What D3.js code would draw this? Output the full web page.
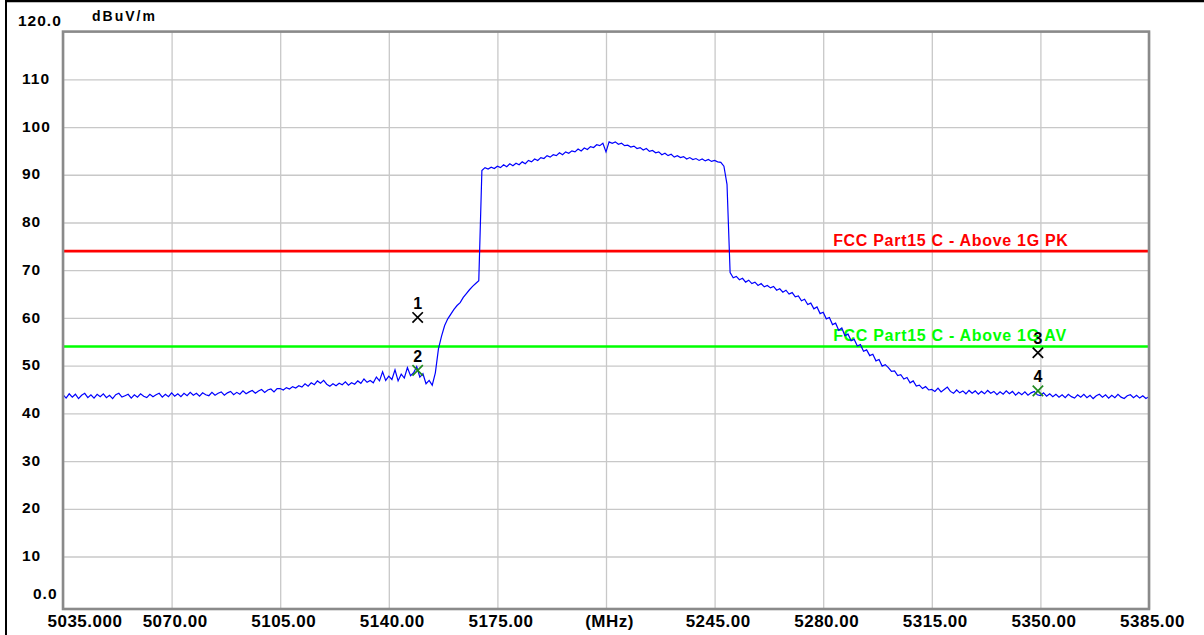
<!DOCTYPE html>
<html>
<head>
<meta charset="utf-8">
<script src="https://cdn.jsdelivr.net/npm/d3@7"></script>
<style>
  html, body { margin: 0; padding: 0; background: #fff; }
  svg { display: block; }
  text { font-family: "Liberation Sans", Arial, sans-serif; font-weight: bold; }
</style>
</head>
<body>
<svg id="chart" width="1204" height="635"></svg>
<script>
// ---------------- DATA ----------------
const freqStart = 5035;   // MHz, first sweep point
const freqStep = 1;       // MHz between sweep points
// Measured level (dBuV/m), one value per sweep point, 5035 .. 5385 MHz
const levels = [
  43.9, 43.2, 44.1, 43.4, 44.0, 43.1, 43.8, 44.2, 43.3, 43.9,
  43.2, 44.0, 43.5, 44.1, 43.3, 43.8, 43.1, 43.9, 44.2, 43.4,
  43.7, 44.0, 43.2, 43.9, 43.4, 44.1, 43.6, 43.3, 44.0, 43.5,
  43.9, 44.2, 43.4, 44.0, 43.5, 44.3, 43.6, 44.1, 43.5, 44.2,
  43.7, 44.4, 43.8, 44.2, 43.6, 44.3, 43.9, 43.7, 44.4, 43.8,
  44.2, 44.5, 43.8, 44.3, 44.6, 43.9, 44.4, 44.0, 44.7, 44.1,
  44.5, 44.8, 44.2, 44.7, 45.0, 44.4, 44.9, 45.1, 44.5, 45.2,
  45.2, 44.9, 45.4, 45.1, 45.6, 45.3, 45.8, 45.5, 46.2, 45.7,
  46.4, 46.0, 46.8, 46.3, 46.9, 46.1, 45.7, 46.2, 45.8, 46.3,
  46.0, 46.6, 45.9, 46.4, 46.1, 46.8, 46.3, 47.2, 46.5, 46.9,
  46.4, 47.6, 46.8, 48.7, 46.9, 47.8, 47.1, 49.1, 46.8, 48.2,
  47.4, 49.6, 47.9, 48.5, 49.8, 47.6, 48.3, 46.2, 46.9, 45.9,
  48.5, 53.5, 56.2, 58.4, 59.8, 60.8, 61.8, 62.6, 63.2, 64.3,
  65.1, 65.9, 66.6, 67.2, 67.8, 90.9, 91.5, 91.2, 91.6, 91.3,
  91.8, 91.5, 92.1, 91.7, 92.3, 91.9, 92.4, 92.1, 92.7, 92.3,
  93.0, 92.7, 93.3, 93.0, 93.6, 93.4, 94.0, 93.7, 94.2, 94.0,
  94.6, 94.2, 94.8, 94.5, 95.0, 94.8, 95.4, 95.0, 95.6, 95.3,
  95.9, 95.7, 96.3, 96.1, 96.6, 94.8, 96.9, 96.6, 96.9, 96.4,
  96.6, 96.1, 96.2, 95.8, 96.0, 95.5, 95.7, 95.2, 95.5, 94.9,
  95.1, 94.6, 94.8, 94.2, 94.5, 94.0, 94.3, 93.7, 94.0, 93.6,
  93.8, 93.3, 93.6, 93.2, 93.4, 93.0, 93.3, 92.9, 93.2, 92.8,
  93.0, 92.7, 92.6, 91.8, 88.0, 69.5, 68.4, 68.7, 68.0, 68.3,
  67.5, 67.9, 67.2, 67.5, 66.8, 67.2, 66.5, 66.8, 66.3, 66.6,
  65.8, 66.1, 65.4, 65.8, 65.0, 65.3, 64.4, 64.6, 63.6, 63.9,
  62.8, 63.1, 61.9, 62.3, 60.9, 61.2, 59.8, 60.1, 58.6, 58.9,
  57.4, 57.9, 56.3, 56.6, 55.2, 55.5, 54.1, 54.4, 53.0, 53.3,
  52.1, 52.4, 51.0, 51.3, 49.9, 50.2, 49.6, 48.8, 48.9, 47.9,
  48.1, 47.2, 47.5, 46.4, 46.8, 45.7, 45.9, 45.2, 45.6, 44.9,
  45.0, 44.6, 45.3, 44.5, 45.0, 45.5, 44.6, 44.2, 44.9, 44.3,
  44.7, 44.1, 44.8, 44.2, 44.7, 44.0, 44.6, 44.1, 44.8, 44.2,
  44.6, 43.9, 44.5, 44.0, 44.7, 44.1, 44.6, 43.8, 44.4, 43.9,
  44.5, 43.8, 44.3, 44.6, 43.9, 43.7, 44.3, 43.6, 44.1, 43.5,
  44.0, 43.4, 43.9, 43.3, 44.0, 43.5, 43.2, 43.9, 43.4, 44.0,
  43.3, 43.8, 43.1, 43.7, 44.0, 43.4, 43.9, 43.2, 43.8, 43.3,
  44.0, 43.4, 43.1, 43.7, 43.9, 43.3, 43.8, 43.2, 43.7, 43.1,
  43.5
];
const xTickValues = [5035, 5070, 5105, 5140, 5175, 5210, 5245, 5280, 5315, 5350, 5385];
const xTickLabels = ["5035.000", "5070.00", "5105.00", "5140.00", "5175.00", "(MHz)",
                     "5245.00", "5280.00", "5315.00", "5350.00", "5385.00"];
const yTickValues = [0, 10, 20, 30, 40, 50, 60, 70, 80, 90, 100, 110, 120];
const yTickLabels = ["0.0", "10", "20", "30", "40", "50", "60", "70", "80", "90", "100", "110", "120.0"];
const yUnit = "dBuV/m";
const limitNames = ["FCC Part15 C - Above 1G PK", "FCC Part15 C - Above 1G AV"];
const limitValues = [74, 54];
const markerIds = ["1", "2", "3", "4"];
const markerFreqs = [5149.3, 5149.3, 5349.2, 5349.2];
const markerLevels = [60.1, 49.0, 52.7, 44.7];
const markerKinds = ["PK", "AV", "PK", "AV"];

// ---------------- STYLE / LAYOUT ----------------
const W = 1204, H = 635;
const plot = { left: 63, right: 1149, top: 31.6, bottom: 609 };
const limitColor = { "FCC Part15 C - Above 1G PK": "#ff0000", "FCC Part15 C - Above 1G AV": "#00ff00" };
const markerColor = { PK: "#000000", AV: "#1f8a1f" };
const limitLabelFreq = 5283.2;

const svg = d3.select("#chart");

const x = d3.scaleLinear().domain([5035, 5385]).range([plot.left, plot.right]);
const y = d3.scaleLinear().domain([-1, 120]).range([plot.bottom, plot.top]);

// outer frame (top + left black lines)
svg.append("line").attr("x1", 5).attr("x2", W).attr("y1", 1).attr("y2", 1)
  .attr("stroke", "#000").attr("stroke-width", 2.5);
svg.append("line").attr("x1", 6).attr("x2", 6).attr("y1", 0).attr("y2", H)
  .attr("stroke", "#000").attr("stroke-width", 2);

// grid
const gx = svg.append("g").attr("transform", `translate(0,${plot.bottom})`)
  .call(d3.axisBottom(x).tickValues(xTickValues).tickSize(-(plot.bottom - plot.top)).tickFormat(""));
gx.select(".domain").remove();
gx.selectAll(".tick line").attr("stroke", "#c8c8c8").attr("stroke-width", 1.3);

const gy = svg.append("g").attr("transform", `translate(${plot.left},0)`)
  .call(d3.axisLeft(y).tickValues(yTickValues.filter(v => v > 0 && v < 120)).tickSize(-(plot.right - plot.left)).tickFormat(""));
gy.select(".domain").remove();
gy.selectAll(".tick line").attr("stroke", "#c8c8c8").attr("stroke-width", 1.3);

// limit lines
const lim = svg.append("g");
limitNames.forEach((name, i) => {
  lim.append("line")
    .attr("x1", plot.left).attr("x2", plot.right)
    .attr("y1", y(limitValues[i])).attr("y2", y(limitValues[i]))
    .attr("stroke", limitColor[name]).attr("stroke-width", 2.6);
  lim.append("text")
    .attr("x", x(limitLabelFreq)).attr("y", y(limitValues[i]) - 5.5)
    .attr("fill", limitColor[name])
    .attr("font-size", 16).attr("letter-spacing", 0.7)
    .text(name);
});

// trace
const pts = levels.map((v, i) => [freqStart + i * freqStep, v]);
svg.append("defs").append("clipPath").attr("id", "clip")
  .append("rect").attr("x", plot.left).attr("y", plot.top)
  .attr("width", plot.right - plot.left).attr("height", plot.bottom - plot.top);
svg.append("path")
  .datum(pts)
  .attr("clip-path", "url(#clip)")
  .attr("fill", "none")
  .attr("stroke", "#0000ff")
  .attr("stroke-width", 1.2)
  .attr("d", d3.line().x(d => x(d[0])).y(d => y(d[1])));

// markers
const mk = svg.append("g");
markerIds.forEach((id, i) => {
  const cx = x(markerFreqs[i]), cy = y(markerLevels[i]);
  const s = 5.2;
  const c = markerColor[markerKinds[i]];
  mk.append("path")
    .attr("d", `M${cx - s},${cy - s}L${cx + s},${cy + s}M${cx - s},${cy + s}L${cx + s},${cy - s}`)
    .attr("stroke", c).attr("stroke-width", 1.7).attr("fill", "none");
  mk.append("text")
    .attr("x", cx).attr("y", cy - 8.5)
    .attr("text-anchor", "middle")
    .attr("font-size", 16)
    .attr("fill", "#000")
    .text(id);
});

// plot border
svg.append("rect")
  .attr("x", plot.left).attr("y", plot.top)
  .attr("width", plot.right - plot.left).attr("height", plot.bottom - plot.top)
  .attr("fill", "none").attr("stroke", "#8a8a8a").attr("stroke-width", 2.6);

// x axis labels
const ax = svg.append("g").attr("transform", `translate(0,${plot.bottom})`)
  .call(d3.axisBottom(x).tickValues(xTickValues).tickSize(0)
    .tickFormat((d, i) => xTickLabels[i]));
ax.select(".domain").remove();
ax.selectAll(".tick text")
  .attr("font-family", null).attr("font-size", null)
  .style("font-size", "17px").attr("letter-spacing", 0.5)
  .attr("fill", "#000")
  .attr("dy", null).attr("y", 17.5)
  .attr("x", 3);
ax.selectAll(".tick").filter((d, i) => i === 0).select("text")
  .attr("text-anchor", "start").attr("x", -16);

// y axis labels
const ay = svg.append("g").attr("transform", `translate(${plot.left},0)`)
  .call(d3.axisLeft(y).tickValues(yTickValues).tickSize(0)
    .tickFormat((d, i) => yTickLabels[i]));
ay.select(".domain").remove();
ay.selectAll(".tick text")
  .attr("font-family", null).attr("font-size", null)
  .style("font-size", "15.5px").attr("letter-spacing", 1)
  .attr("fill", "#000")
  .attr("text-anchor", "start")
  .attr("dy", null)
  .attr("x", 22 - plot.left).attr("y", 4.2);
ay.selectAll(".tick").filter(d => d === 0).select("text")
  .attr("x", 33 - plot.left).attr("y", 598 - y(0));
ay.selectAll(".tick").filter(d => d === 120).select("text")
  .attr("x", 18 - plot.left).attr("y", 25 - y(120));

// unit label
svg.append("text")
  .attr("x", 92).attr("y", 20.5)
  .attr("font-size", 14).attr("letter-spacing", 2)
  .attr("fill", "#000")
  .text(yUnit);
</script>
</body>
</html>
